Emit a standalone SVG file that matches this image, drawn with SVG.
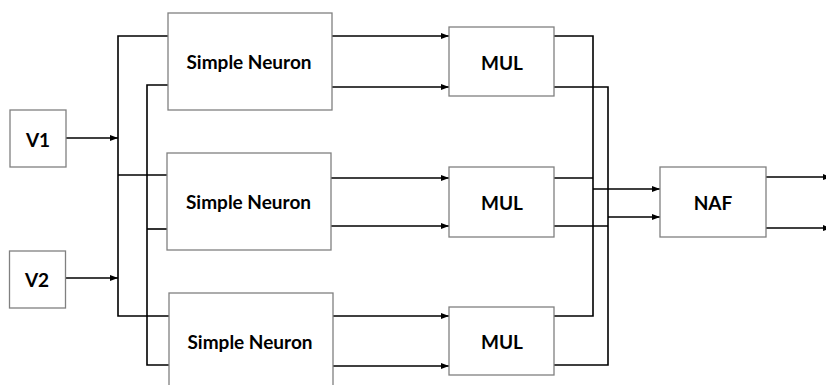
<svg xmlns="http://www.w3.org/2000/svg" width="826" height="385" viewBox="0 0 826 385">
  <defs>
    <marker id="arrow" markerUnits="userSpaceOnUse" markerWidth="9" markerHeight="7" refX="8" refY="3.5" orient="auto">
      <path d="M0,0.5 L8,3.5 L0,6.5 Z" fill="#000"/>
    </marker>
  </defs>
  <style>
    .box { fill: #fff; stroke: #808080; stroke-width: 1.3; }
    .lbl { font-family: Lato, "Liberation Sans", sans-serif; font-weight: 700; font-size: 19px; fill: #000; text-anchor: middle; }
    .wire { fill: none; stroke: #000; stroke-width: 1.6; }
    .arr { fill: none; stroke: #000; stroke-width: 1.6; marker-end: url(#arrow); }
  </style>
  <rect width="826" height="385" fill="#fff"/>

  <!-- connectors -->
  <g id="connectors">
    <!-- inputs onto the first bus -->
    <path class="arr" d="M66 138 H118"/>
    <path class="arr" d="M65 278 H118"/>
    <!-- bus 1 feeding the upper input of each neuron -->
    <path class="wire" d="M168 36 H118 V316 H169"/>
    <path class="wire" d="M118 175 H167"/>
    <!-- bus 2 feeding the lower input of each neuron -->
    <path class="wire" d="M168 85 H147 V365 H169"/>
    <path class="wire" d="M147 229 H167"/>
    <!-- neuron outputs into the multipliers -->
    <path class="arr" d="M332 36 H449"/>
    <path class="arr" d="M332 87 H449"/>
    <path class="arr" d="M331 178 H449"/>
    <path class="arr" d="M331 226 H449"/>
    <path class="arr" d="M333 316 H449"/>
    <path class="arr" d="M333 366 H449"/>
    <!-- multiplier outputs gathered onto two buses -->
    <path class="wire" d="M554 36 H593 V316 H554"/>
    <path class="wire" d="M554 178 H593"/>
    <path class="wire" d="M554 87 H608 V365 H554"/>
    <path class="wire" d="M554 226 H608"/>
    <!-- buses into NAF -->
    <path class="arr" d="M593 189 H660"/>
    <path class="arr" d="M608 217 H660"/>
    <!-- NAF outputs -->
    <path class="arr" d="M766 177 H831"/>
    <path class="arr" d="M766 228 H831"/>
  </g>

  <g id="v1">
    <rect class="box" x="10" y="110" width="56" height="57"/>
    <text class="lbl" x="38" y="146.5">V1</text>
  </g>
  <g id="v2">
    <rect class="box" x="9.5" y="251" width="56" height="57"/>
    <text class="lbl" x="37" y="287">V2</text>
  </g>

  <g id="neuron1">
    <rect class="box" x="168" y="13" width="164" height="97"/>
    <text class="lbl" x="249" y="68.5">Simple Neuron</text>
  </g>
  <g id="neuron2">
    <rect class="box" x="167" y="153" width="164" height="97"/>
    <text class="lbl" x="248.5" y="209">Simple Neuron</text>
  </g>
  <g id="neuron3">
    <rect class="box" x="169" y="293" width="164" height="100"/>
    <text class="lbl" x="250" y="349.3">Simple Neuron</text>
  </g>

  <g id="mul1">
    <rect class="box" x="449" y="27" width="105" height="69"/>
    <text class="lbl" x="502" y="70">MUL</text>
  </g>
  <g id="mul2">
    <rect class="box" x="449" y="167" width="105" height="70"/>
    <text class="lbl" x="502" y="210">MUL</text>
  </g>
  <g id="mul3">
    <rect class="box" x="449" y="307" width="105" height="68"/>
    <text class="lbl" x="502" y="349">MUL</text>
  </g>

  <g id="naf">
    <rect class="box" x="660" y="167" width="106" height="70"/>
    <text class="lbl" x="713" y="210">NAF</text>
  </g>
</svg>
